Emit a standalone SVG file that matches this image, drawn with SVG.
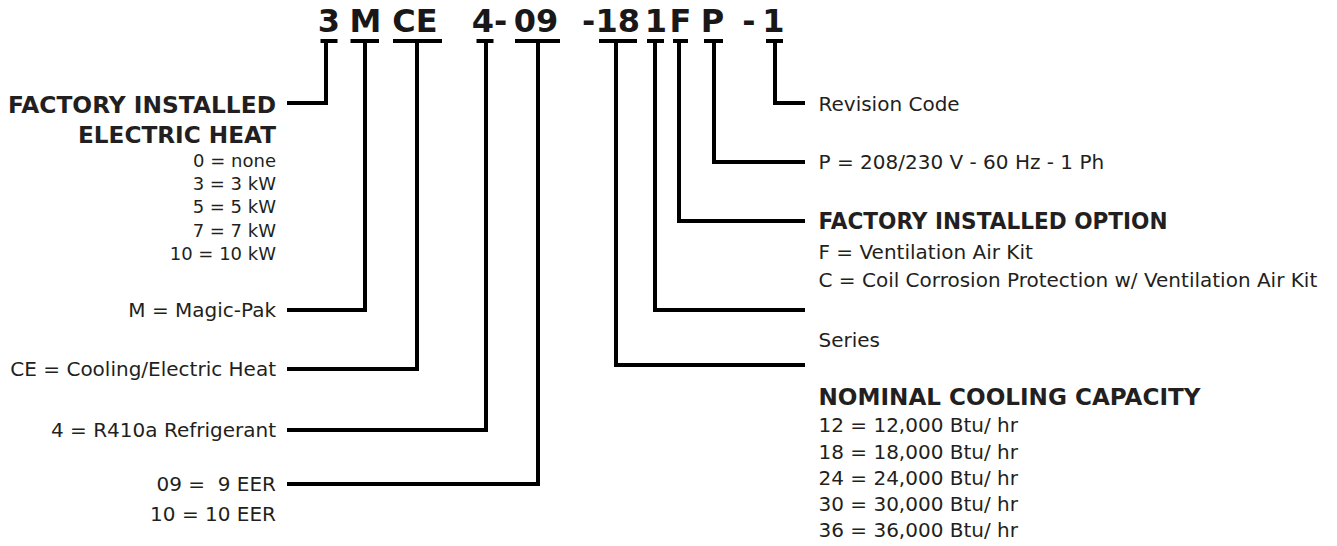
<svg xmlns="http://www.w3.org/2000/svg" width="1337" height="546" viewBox="0 0 1337 546">
<style>
text{font-family:"DejaVu Sans","Liberation Sans",sans-serif;fill:#231f20}
.code{font-weight:bold;font-size:32px;text-anchor:middle;fill:#1a1718}
.h{font-weight:bold;font-size:22.5px}
.t{font-size:20px}
.s{font-size:18px}
.end{text-anchor:end}
.bar{stroke:#000;stroke-width:4;fill:none}
.ln{stroke:#000;stroke-width:4;fill:none;stroke-linejoin:miter;stroke-linecap:butt}
</style>
<rect width="1337" height="546" fill="#fff"/>
<g id="code">
<text class="code" x="329" y="32">3</text>
<text class="code" x="365.5" y="32">M</text>
<text class="code" x="415" y="32">CE</text>
<text class="code" x="489.5" y="32">4-</text>
<text class="code" x="536" y="32">09</text>
<text class="code" x="611" y="32">-18</text>
<text class="code" x="656" y="32">1</text>
<text class="code" x="680.5" y="32">F</text>
<text class="code" x="712.5" y="32">P</text>
<text class="code" x="749" y="32">-</text>
<text class="code" x="773.5" y="32">1</text>
</g>
<g id="connectors">
<path class="bar" d="M320.5,41H337.5M350.5,41H379M393,41H442M476.5,41H493.5M515,41H560M599,41H637M647,41H664M673,41H688M704,41H723M766,41H783"/>
<path class="ln" d="M326,41V103H287"/>
<path class="ln" d="M365,41V310H287"/>
<path class="ln" d="M417,41V369H287"/>
<path class="ln" d="M486,41V430H287"/>
<path class="ln" d="M538,41V484H287"/>
<path class="ln" d="M616,41V365H805"/>
<path class="ln" d="M655,41V310H805"/>
<path class="ln" d="M679,41V221H805"/>
<path class="ln" d="M714,41V162H805"/>
<path class="ln" d="M775,41V103H805"/>
</g>
<g id="electric-heat">
<text class="h end" x="276" y="113" textLength="268" lengthAdjust="spacingAndGlyphs">FACTORY INSTALLED</text>
<text class="h end" x="276" y="143" textLength="198" lengthAdjust="spacingAndGlyphs">ELECTRIC HEAT</text>
<text class="s end" x="276" y="166.5">0 = none</text>
<text class="s end" x="276" y="190">3 = 3 kW</text>
<text class="s end" x="276" y="213">5 = 5 kW</text>
<text class="s end" x="276" y="236.5">7 = 7 kW</text>
<text class="s end" x="276" y="260">10 = 10 kW</text>
</g>
<g id="magic-pak"><text class="t end" x="276" y="317">M = Magic-Pak</text></g>
<g id="cooling"><text class="t end" x="276" y="376">CE = Cooling/Electric Heat</text></g>
<g id="refrigerant"><text class="t end" x="276" y="437">4 = R410a Refrigerant</text></g>
<g id="eer">
<text class="t end" x="276" y="491" xml:space="preserve">09 =  9 EER</text>
<text class="t end" x="276" y="520.5">10 = 10 EER</text>
</g>
<g id="revision"><text class="t" x="818.5" y="110.5">Revision Code</text></g>
<g id="voltage"><text class="t" x="818.5" y="169">P = 208/230 V - 60 Hz - 1 Ph</text></g>
<g id="option">
<text class="h" x="818.5" y="229" textLength="349" lengthAdjust="spacingAndGlyphs">FACTORY INSTALLED OPTION</text>
<text class="t" x="818.5" y="259">F = Ventilation Air Kit</text>
<text class="t" x="818.5" y="287.3">C = Coil Corrosion Protection w/ Ventilation Air Kit</text>
</g>
<g id="series"><text class="t" x="818.5" y="346.6">Series</text></g>
<g id="capacity">
<text class="h" x="818.5" y="405" textLength="382" lengthAdjust="spacingAndGlyphs">NOMINAL COOLING CAPACITY</text>
<text class="t" x="818.5" y="432.3">12 = 12,000 Btu/ hr</text>
<text class="t" x="818.5" y="459">18 = 18,000 Btu/ hr</text>
<text class="t" x="818.5" y="484.6">24 = 24,000 Btu/ hr</text>
<text class="t" x="818.5" y="510.6">30 = 30,000 Btu/ hr</text>
<text class="t" x="818.5" y="537.3">36 = 36,000 Btu/ hr</text>
</g>
</svg>
